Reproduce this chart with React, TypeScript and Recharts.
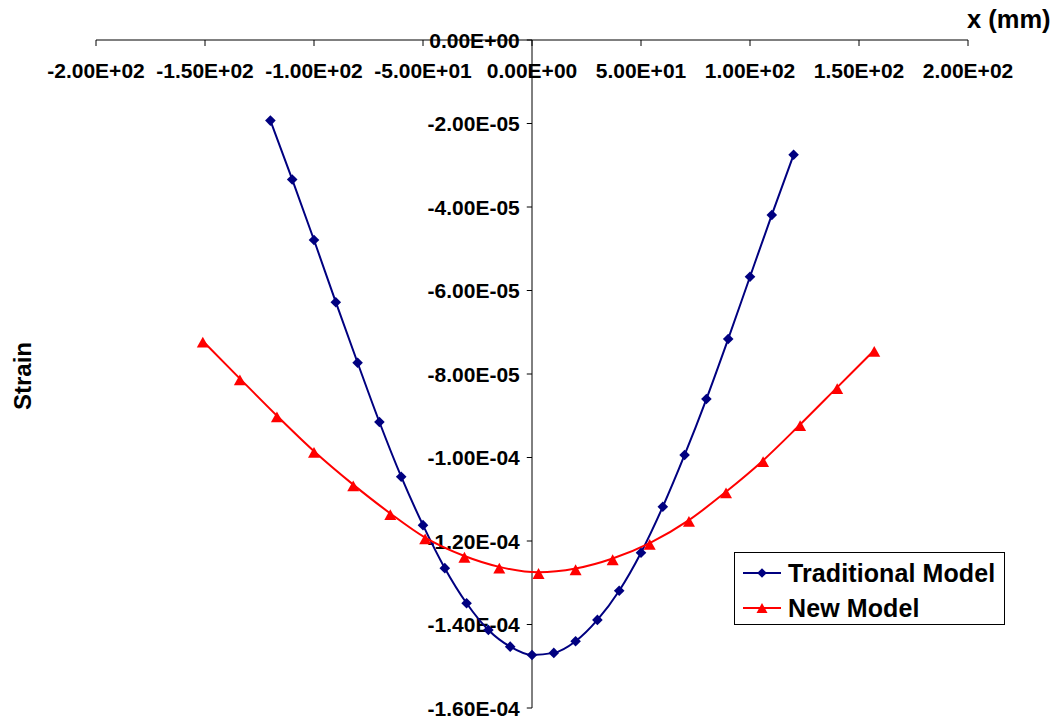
import React from 'react';
import { LineChart, Line, XAxis, YAxis, ReferenceLine, Legend } from 'recharts';

const FONT = '"Liberation Sans", Arial, sans-serif';

const xTicks = [-200, -150, -100, -50, 0, 50, 100, 150, 200];
const yTicks = [0, -2e-5, -4e-5, -6e-5, -8e-5, -1e-4, -1.2e-4, -1.4e-4, -1.6e-4];

const traditionalX = [-120, -110, -100, -90, -80, -70, -60, -50, -40, -30, -20, -10, 0, 10, 20, 30, 40, 50, 60, 70, 80, 90, 100, 110, 120];
const traditionalStrain = [
  -1.93e-5, -3.34e-5, -4.79e-5, -6.28e-5, -7.73e-5, -9.15e-5, -10.46e-5, -11.62e-5, -12.65e-5,
  -13.49e-5, -14.13e-5, -14.53e-5, -14.73e-5, -14.68e-5, -14.40e-5, -13.89e-5, -13.19e-5,
  -12.28e-5, -11.18e-5, -9.94e-5, -8.60e-5, -7.16e-5, -5.67e-5, -4.19e-5, -2.75e-5,
];

const newX = [-151, -134, -117, -100, -82, -65, -49, -31, -15, 3, 20, 37, 54, 72, 89, 106, 123, 140, 157];
const newStrain = [
  -7.21e-5, -8.11e-5, -9.0e-5, -9.85e-5, -10.65e-5, -11.34e-5, -11.92e-5, -12.36e-5, -12.62e-5,
  -12.75e-5, -12.66e-5, -12.42e-5, -12.05e-5, -11.5e-5, -10.82e-5, -10.07e-5, -9.21e-5, -8.32e-5, -7.43e-5,
];

const traditionalData = traditionalX.map((x, i) => ({ x, y: traditionalStrain[i] }));
const newData = newX.map((x, i) => ({ x, y: newStrain[i] }));

const BLUE = '#000080';
const RED = '#FF0000';

function fmtExp(v: number): string {
  const s = Number(v).toExponential(2);
  const [m, e] = s.split('e');
  const sign = e[0] === '-' ? '-' : '+';
  const digits = e.replace(/[+-]/, '').padStart(2, '0');
  return `${m}E${sign}${digits}`;
}

const Diamond = (props: any) => {
  const { cx, cy } = props;
  if (cx == null || cy == null) return null;
  const s = 5.3;
  return <path d={`M${cx},${cy - s}L${cx + s},${cy}L${cx},${cy + s}L${cx - s},${cy}Z`} fill={BLUE} stroke="none" />;
};

const Triangle = (props: any) => {
  const { cx, cy } = props;
  if (cx == null || cy == null) return null;
  const w = 6;
  return <path d={`M${cx},${cy - 4.2}L${cx + w},${cy + 6.6}L${cx - w},${cy + 6.6}Z`} fill={RED} stroke="none" />;
};

const YLabel = (props: any) => {
  const { viewBox, value } = props;
  const x = viewBox.x - 7;
  const y = viewBox.y + (viewBox.height || 0) / 2;
  return (
    <g>
      <rect x={x - 92} y={y - 9} width={94} height={18} fill="#fff" />
      <text x={x} y={y} textAnchor="end" dominantBaseline="central" fontFamily={FONT} fontWeight="bold" fontSize={21} fill="#000">
        {value}
      </text>
    </g>
  );
};

const renderLegend = () => {
  const items = [
    { name: 'Traditional Model', color: BLUE, shape: 'diamond' },
    { name: 'New Model', color: RED, shape: 'triangle' },
  ];
  return (
    <div style={{ width: 269, height: 71, border: '1px solid #000', background: '#fff', boxSizing: 'content-box', fontFamily: FONT, fontWeight: 'bold', fontSize: 25 }}>
      {items.map((it, i) => (
        <div key={it.name} style={{ display: 'flex', alignItems: 'center', height: 36, marginTop: i === 0 ? 2 : -1 }}>
          <svg width={40} height={20} style={{ marginLeft: 7, marginRight: 6 }}>
            <line x1={1} y1={10} x2={39} y2={10} stroke={it.color} strokeWidth={2} />
            {it.shape === 'diamond' ? (
              <path d="M20,5.2L24.8,10L20,14.8L15.2,10Z" fill={it.color} />
            ) : (
              <path d="M20,5L25.5,15L14.5,15Z" fill={it.color} />
            )}
          </svg>
          <span style={{ color: '#000', lineHeight: '36px', letterSpacing: '0.1px' }}>{it.name}</span>
        </div>
      ))}
    </div>
  );
};

export default function App() {
  return (
    <div style={{ position: 'absolute', left: 0, top: 0, width: 1057, height: 723, background: '#fff' }}>
      <LineChart width={1057} height={723} margin={{ top: 40, right: 89, bottom: 15, left: 96 }}>
        <XAxis
          type="number"
          dataKey="x"
          orientation="top"
          mirror
          domain={[-200, 200]}
          ticks={xTicks}
          tickFormatter={fmtExp}
          allowDataOverflow
          tickSize={6}
          tickMargin={17}
          stroke="#000"
          tick={{ fill: '#000', fontFamily: FONT, fontWeight: 'bold', fontSize: 21 }}
        />
        <YAxis type="number" dataKey="y" domain={[-1.6e-4, 0]} ticks={yTicks} hide allowDataOverflow />
        <ReferenceLine x={0} stroke="#000" strokeWidth={1} />
        {yTicks.map((v) => (
          <ReferenceLine
            key={v}
            segment={[{ x: -2.4, y: v }, { x: 0, y: v }]}
            stroke="#000"
            strokeWidth={1}
            label={<YLabel value={fmtExp(v)} />}
          />
        ))}
        <Line
          data={traditionalData}
          dataKey="y"
          name="Traditional Model"
          type="monotone"
          stroke={BLUE}
          strokeWidth={2}
          dot={<Diamond />}
          activeDot={false}
          isAnimationActive={false}
        />
        <Line
          data={newData}
          dataKey="y"
          name="New Model"
          type="monotone"
          stroke={RED}
          strokeWidth={2}
          dot={<Triangle />}
          activeDot={false}
          isAnimationActive={false}
        />
        <Legend
          layout="vertical"
          align="center"
          verticalAlign="middle"
          content={renderLegend}
          wrapperStyle={{ left: 734, top: 552, width: 271, height: 73 }}
        />
      </LineChart>
      <div style={{ position: 'absolute', left: 967, top: 5, fontFamily: FONT, fontWeight: 'bold', fontSize: 25.5, color: '#000', whiteSpace: 'nowrap' }}>
        x (mm)
      </div>
      <div
        style={{
          position: 'absolute',
          left: 23,
          top: 376,
          transform: 'translate(-50%, -50%) rotate(-90deg)',
          fontFamily: FONT,
          fontWeight: 'bold',
          fontSize: 24,
          color: '#000',
          whiteSpace: 'nowrap',
        }}
      >
        Strain
      </div>
    </div>
  );
}
